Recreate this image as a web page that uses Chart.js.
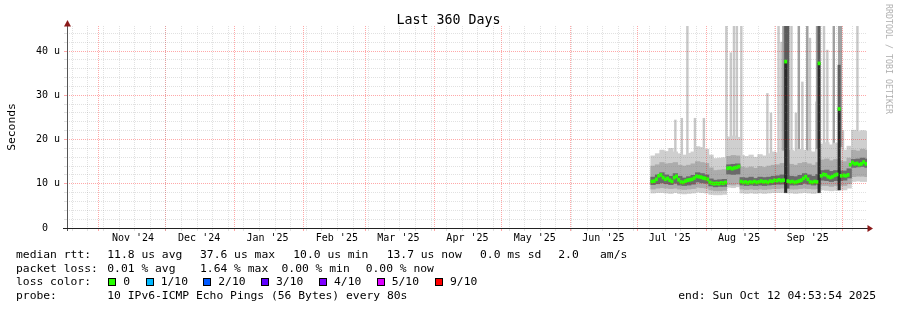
<!DOCTYPE html>
<html>
<head>
<meta charset="utf-8">
<title>Last 360 Days</title>
<script src="https://cdn.jsdelivr.net/npm/chart.js@4.4.1/dist/chart.umd.min.js"></script>
<style>
  html, body { margin: 0; padding: 0; background: #fff; }
  #graph { position: relative; width: 897px; height: 310px; overflow: hidden;
           font-family: "DejaVu Sans Mono", monospace; color: #000; }
  #graph canvas { position: absolute; left: 0; top: 0; }
  .txt { position: absolute; white-space: pre; font-size: 11.33px; line-height: 1; }
  .sq { position: absolute; top: 278px; width: 6px; height: 6px; border: 1px solid #000; }
</style>
</head>
<body>
<div id="graph">
  <canvas id="smokeChart" width="897" height="310"></canvas>

  <div class="txt" style="left:0; width:897px; text-align:center; top:12.7px; font-size:13.3px;">Last 360 Days</div>
  <div class="txt" style="left:-39px; top:120px; width:100px; height:14px; line-height:14px; text-align:center; transform:rotate(-90deg);">Seconds</div>
  <div class="txt" style="left:828.5px; top:54px; width:120px; height:10px; line-height:10px; text-align:center; font-size:8.3px; color:#b0b0b0; transform:rotate(90deg);">RRDTOOL / TOBI OETIKER</div>

  <div class="txt" style="left:16px; top:248.7px;">median rtt:</div>
  <div class="txt" style="left:107.3px; top:248.7px;">11.8 us avg</div>
  <div class="txt" style="left:200px; top:248.7px;">37.6 us max</div>
  <div class="txt" style="left:293.3px; top:248.7px;">10.0 us min</div>
  <div class="txt" style="left:386.7px; top:248.7px;">13.7 us now</div>
  <div class="txt" style="left:480px; top:248.7px;">0.0 ms sd</div>
  <div class="txt" style="left:558.3px; top:248.7px;">2.0</div>
  <div class="txt" style="left:600px; top:248.7px;">am/s</div>

  <div class="txt" style="left:16px; top:262.7px;">packet loss:</div>
  <div class="txt" style="left:107.3px; top:262.7px;">0.01 % avg</div>
  <div class="txt" style="left:200px; top:262.7px;">1.64 % max</div>
  <div class="txt" style="left:281.5px; top:262.7px;">0.00 % min</div>
  <div class="txt" style="left:365.7px; top:262.7px;">0.00 % now</div>

  <div class="txt" style="left:16px; top:276.4px;">loss color:</div>
  <div class="sq" style="left:108px; background:#26ff00;"></div>
  <div class="txt" style="left:123.3px; top:276.4px;">0</div>
  <div class="sq" style="left:145.5px; background:#00b8ff;"></div>
  <div class="txt" style="left:160.7px; top:276.4px;">1/10</div>
  <div class="sq" style="left:203px; background:#0059ff;"></div>
  <div class="txt" style="left:218.3px; top:276.4px;">2/10</div>
  <div class="sq" style="left:261px; background:#5e00ff;"></div>
  <div class="txt" style="left:276px; top:276.4px;">3/10</div>
  <div class="sq" style="left:319px; background:#7e00ff;"></div>
  <div class="txt" style="left:334px; top:276.4px;">4/10</div>
  <div class="sq" style="left:376.5px; background:#dd00ff;"></div>
  <div class="txt" style="left:391.7px; top:276.4px;">5/10</div>
  <div class="sq" style="left:435px; background:#ff0000;"></div>
  <div class="txt" style="left:450px; top:276.4px;">9/10</div>

  <div class="txt" style="left:16px; top:290.4px;">probe:</div>
  <div class="txt" style="left:107.3px; top:290.4px;">10 IPv6-ICMP Echo Pings (56 Bytes) every 80s</div>
  <div class="txt" style="left:678.3px; top:290.4px;">end: Sun Oct 12 04:53:54 2025</div>
</div>

<script>
// x axis runs in days from the left edge of the graph (360 day window)
const monthStarts = [14.04, 44.04, 75.04, 106.04, 134.04, 165.04, 195.04, 226.04, 256.04, 287.04, 318.04, 348.04];
const monthLabelDays = [29.6, 59.3, 90.0, 121.1, 148.7, 179.7, 209.9, 240.7, 270.5, 301.6, 332.4];
const monthLabels = ["Nov '24", "Dec '24", "Jan '25", "Feb '25", "Mar '25", "Apr '25",
                     "May '25", "Jun '25", "Jul '25", "Aug '25", "Sep '25"];
const firstWeekLine = 2.38;

// y axis in microseconds
const yTickValues = [0, 2, 4, 6, 8, 10, 12, 14, 16, 18, 20, 22, 24, 26, 28, 30, 32, 34, 36, 38, 40, 42, 44];
const yLabelValues = [0, 10, 20, 30, 40];
const yLabels = ['0  ', '10 u', '20 u', '30 u', '40 u'];
const yMax = 45.65;

// median rtt, one value per day starting at day 262
const medStart = 262;
const median = [
  10.5, 10.6, 11.0, 11.8, 12.0, 11.4, 11.0, 11.2, 10.8, 10.5,
  11.4, 11.7, 10.9, 10.4, 10.3, 10.6, 10.8, 10.9, 11.0, 11.3,
  11.7, 11.6, 11.5, 11.3, 11.2, 11.0, 10.3, 10.1, 10.0, 10.1,
  10.0, 10.2, 10.1, 10.3, 13.5, 13.6, 13.4, 13.6, 13.7, 13.9,
  10.5, 10.3, 10.4, 10.2, 10.4, 10.3, 10.5, 10.3, 10.4, 10.6,
  10.4, 10.5, 10.3, 10.6, 10.5, 10.8, 10.7, 10.9, 10.7, 10.8,
  37.6, 10.6, 10.4, 10.5, 10.3, 10.4, 10.6, 10.8, 11.2, 11.6,
  11.0, 10.4, 10.3, 10.5, 10.4, 37.2, 11.8, 12.1, 12.0, 11.6,
  11.4, 11.6, 11.9, 12.1, 26.9, 11.8, 11.9, 11.8, 12.0, 14.3,
  14.8, 14.5, 14.6, 14.3, 14.5, 14.9, 14.5
];

// smoke bands, one block per 2 days starting at day 262
const bandStart = 262;
const outerHi = [
  16.3, 16.8, 17.6, 17.3, 18.0, 17.2, 16.8, 16.5, 16.9, 17.2,
  18.4, 18.2, 17.8, 16.5, 15.7, 15.8, 15.9, 20.6, 20.8, 20.5,
  16.4, 16.2, 16.5, 16.0, 16.6, 16.3, 16.8, 17.2, 17.0, 17.4,
  17.5, 17.6, 17.3, 17.8, 17.6, 17.4, 17.2, 17.8, 19.0, 19.3,
  18.8, 19.2, 18.2, 17.6, 18.5, 22.1, 21.8, 22.0, 21.9
];
const outerLo = [
  7.9, 8.0, 8.0, 7.9, 7.8, 8.0, 7.8, 7.7, 7.8, 7.9,
  8.1, 8.0, 7.9, 7.6, 7.5, 7.5, 7.6, 9.2, 9.1, 9.3,
  7.9, 7.8, 7.9, 7.8, 7.9, 7.8, 7.9, 8.0, 8.0, 8.0,
  7.9, 7.9, 7.8, 7.9, 8.0, 7.9, 7.8, 7.9, 8.6, 8.5,
  8.4, 8.5, 8.6, 8.6, 9.0, 10.5, 10.6, 10.5, 10.5
];
const midHi = [
  14.0, 14.3, 14.8, 14.5, 14.6, 14.8, 14.2, 14.0, 14.2, 14.5,
  15.0, 14.8, 14.6, 13.6, 13.0, 13.1, 13.2, 16.2, 16.4, 16.3,
  13.8, 13.6, 13.8, 13.5, 13.9, 13.7, 14.0, 14.2, 14.3, 14.6,
  14.6, 14.4, 14.2, 14.6, 14.8, 14.5, 14.2, 14.8, 15.4, 15.6,
  15.2, 15.5, 15.2, 15.0, 15.8, 17.6, 17.4, 17.8, 17.6
];
const midLo = [
  8.8, 9.0, 9.1, 9.0, 8.9, 9.0, 8.8, 8.7, 8.8, 8.9,
  9.2, 9.1, 9.0, 8.6, 8.4, 8.4, 8.5, 9.8, 9.7, 9.9,
  8.8, 8.7, 8.8, 8.7, 8.8, 8.7, 8.8, 8.9, 8.9, 9.0,
  8.9, 8.8, 8.8, 8.9, 9.0, 8.9, 8.8, 8.9, 9.6, 9.6,
  9.4, 9.6, 9.6, 9.6, 10.0, 11.6, 11.7, 11.7, 11.6
];
const innerHi = [
  11.5, 12.0, 12.5, 12.0, 11.7, 12.3, 11.7, 11.3, 11.6, 11.9,
  12.5, 12.3, 12.0, 11.1, 10.8, 10.9, 11.0, 14.3, 14.4, 14.5,
  11.4, 11.3, 11.5, 11.2, 11.5, 11.4, 11.5, 11.7, 11.8, 12.0,
  11.9, 11.7, 11.6, 11.9, 12.3, 12.0, 11.7, 12.1, 13.0, 13.1,
  12.8, 13.0, 12.9, 12.9, 13.4, 15.5, 15.6, 15.8, 15.6
];
const innerLo = [
  9.8, 10.0, 10.2, 10.0, 9.8, 10.1, 9.7, 9.6, 9.7, 9.9,
  10.4, 10.2, 10.1, 9.5, 9.3, 9.4, 9.4, 12.2, 12.1, 12.2,
  9.7, 9.6, 9.7, 9.6, 9.7, 9.6, 9.7, 9.8, 9.9, 9.9,
  9.8, 9.7, 9.7, 9.8, 10.1, 9.9, 9.7, 9.9, 10.8, 10.7,
  10.5, 10.7, 10.7, 10.8, 11.3, 13.7, 13.8, 13.9, 13.7
];

// single high pings (thin spikes)
const spikeBase = 12;
const lightSpikeDays = [273.0, 275.9, 278.4, 281.8, 285.8, 295.9, 297.9, 299.3, 300.6, 302.6, 314.3, 315.9,
                        319.3, 320.6, 325.1, 327.1, 330.0, 333.4, 336.3, 339.7, 341.2, 348.2, 354.7];
const lightSpikeTops = [24.4, 24.8, 45.6, 24.8, 24.8, 45.6, 39.6, 45.6, 45.6, 45.6, 30.4, 26.0,
                        45.6, 42.0, 45.6, 26.0, 33.0, 42.9, 28.5, 45.6, 40.2, 22.0, 45.6];
const darkSpikeDays = [321.5, 328.4, 332.2, 336.6, 344.1, 347.3, 346.5];
const darkSpikeTops = [45.6, 45.6, 45.6, 45.6, 45.6, 45.6, 45.6];

// days where the median itself jumped up
const columnDays = [322, 337, 346];
const columnLo = [8.0, 8.0, 8.6];
const columnHi = [37.6, 37.2, 26.9];
const columnUpperDays = [322, 323, 337, 346];
const columnUpperLo = [37.6, 9.0, 37.2, 26.9];
const columnUpperHi = [45.6, 45.6, 45.6, 36.8];

const MINOR_GRID = 'rgba(128, 128, 128, 0.24)';
const MAJOR_GRID = 'rgba(255, 0, 0, 0.34)';
const TICK_FONT = { family: 'DejaVu Sans Mono', size: 10 };

document.addEventListener('DOMContentLoaded', function() {
  initSmokeChart();
});

/**
 * Floating bars [lo, hi] at the given x positions
 */
function floatBars(xs, lo, hi) {
  return xs.map((x, i) => ({ x: x, y: [lo[i], hi[i]] }));
}

/**
 * Tick list for the time axis: weekly lines, monthly lines and month labels
 */
function buildTimeTicks() {
  const ticks = [];
  for (let d = firstWeekLine; d < 359; d += 7) {
    ticks.push({ value: d, kind: 'week', text: '' });
  }
  monthStarts.forEach(d => ticks.push({ value: d, kind: 'month', text: '' }));
  monthLabelDays.forEach((d, i) => ticks.push({ value: d, kind: 'label', text: monthLabels[i] }));
  return ticks.sort((a, b) => a.value - b.value);
}

function timeGridColor(ctx) {
  if (!ctx.tick) return 'rgba(0,0,0,0)';
  if (ctx.tick.kind === 'month') return MAJOR_GRID;
  if (ctx.tick.kind === 'week') return MINOR_GRID;
  return 'rgba(0,0,0,0)';
}

function valueGridColor(ctx) {
  if (!ctx.tick) return 'rgba(0,0,0,0)';
  return ctx.tick.value % 10 === 0 ? MAJOR_GRID : MINOR_GRID;
}

/**
 * Axis lines and the little arrow heads
 */
const axisArrows = {
  id: 'axisArrows',
  afterDraw(chart) {
    const ctx = chart.ctx;
    const a = chart.chartArea;
    ctx.save();
    ctx.lineWidth = 1;
    ctx.strokeStyle = '#555';
    ctx.beginPath();
    ctx.moveTo(a.left + 0.5, a.bottom + 3);
    ctx.lineTo(a.left + 0.5, a.top - 2);
    ctx.stroke();
    ctx.strokeStyle = '#222';
    ctx.beginPath();
    ctx.moveTo(a.left - 4, a.bottom + 0.5);
    ctx.lineTo(a.right + 2, a.bottom + 0.5);
    ctx.stroke();

    ctx.fillStyle = '#8b1a1a';
    ctx.beginPath();
    ctx.moveTo(a.left + 0.5, a.top - 6);
    ctx.lineTo(a.left - 3, a.top + 0.5);
    ctx.lineTo(a.left + 4, a.top + 0.5);
    ctx.closePath();
    ctx.fill();
    ctx.beginPath();
    ctx.moveTo(a.right + 6, a.bottom + 0.5);
    ctx.lineTo(a.right + 0.5, a.bottom - 3);
    ctx.lineTo(a.right + 0.5, a.bottom + 4);
    ctx.closePath();
    ctx.fill();
    ctx.restore();
  }
};

/**
 * Create the smoke chart
 */
function initSmokeChart() {
  const ctx = document.getElementById('smokeChart');
  if (!ctx) return;

  const medDays = median.map((m, i) => medStart + i + 0.5);
  const bandDays = outerHi.map((v, i) => bandStart + 2 * i + 1);
  const medLo = median.map(m => m - 0.34);
  const medHi = median.map(m => m + 0.34);
  const colX = columnDays.map(d => d + 0.5);
  const colUpX = columnUpperDays.map(d => d + 0.5);
  const timeTicks = buildTimeTicks();

  const chart = new Chart(ctx, {
    type: 'bar',
    data: {
      datasets: [
        { label: 'median', data: floatBars(medDays, medLo, medHi), backgroundColor: '#26ff00', barThickness: 2.3, order: 0 },
        { label: 'jump', data: floatBars(colX, columnLo, columnHi), backgroundColor: '#2a2a2a', barThickness: 2.4, order: 1 },
        { label: 'jump upper', data: floatBars(colUpX, columnUpperLo, columnUpperHi), backgroundColor: '#5c5c5c', barThickness: 2.4, order: 2 },
        { label: 'inner', data: floatBars(bandDays, innerLo, innerHi), backgroundColor: '#6a6a6a', barThickness: 4.6, order: 3 },
        { label: 'middle', data: floatBars(bandDays, midLo, midHi), backgroundColor: '#acacac', barThickness: 4.6, order: 4 },
        { label: 'outer', data: floatBars(bandDays, outerLo, outerHi), backgroundColor: '#cfcfcf', barThickness: 4.6, order: 5 },
        { label: 'dark spikes', data: floatBars(darkSpikeDays, darkSpikeDays.map(() => spikeBase), darkSpikeTops), backgroundColor: '#a0a0a0', barThickness: 1.8, order: 6 },
        { label: 'light spikes', data: floatBars(lightSpikeDays, lightSpikeDays.map(() => spikeBase), lightSpikeTops), backgroundColor: '#c8c8c8', barThickness: 1.8, order: 7 }
      ]
    },
    options: {
      responsive: false,
      animation: false,
      layout: { padding: { left: 0, right: 30, top: 26, bottom: 0 } },
      datasets: {
        bar: { grouped: false, borderWidth: 0, clip: 0 }
      },
      plugins: {
        legend: { display: false },
        tooltip: { enabled: false },
        title: { display: false }
      },
      scales: {
        x: {
          type: 'linear',
          min: 0,
          max: 359,
          offset: false,
          afterBuildTicks: function(scale) {
            scale.ticks = timeTicks.map(t => Object.assign({}, t));
          },
          afterFit: function(scale) { scale.height = 82; },
          grid: {
            offset: false,
            z: 1,
            color: timeGridColor,
            tickColor: timeGridColor,
            lineWidth: c => (c.tick && c.tick.kind === 'label') ? 0 : 1,
            tickLength: 3
          },
          border: { display: false, dash: [1, 1] },
          ticks: {
            autoSkip: false,
            maxRotation: 0,
            minRotation: 0,
            padding: 1,
            color: '#000',
            font: TICK_FONT,
            callback: function(value, index, ticks) {
              return ticks[index].text || '';
            }
          }
        },
        y: {
          type: 'linear',
          min: 0,
          max: yMax,
          afterBuildTicks: function(scale) {
            scale.ticks = yTickValues.map(v => ({ value: v }));
          },
          afterFit: function(scale) { scale.width = 67; },
          grid: {
            z: 1,
            color: valueGridColor,
            tickColor: valueGridColor,
            tickLength: 3
          },
          border: { display: false, dash: [1, 1] },
          ticks: {
            autoSkip: false,
            padding: 4,
            color: '#000',
            font: TICK_FONT,
            callback: function(value) {
              const i = yLabelValues.indexOf(value);
              return i >= 0 ? yLabels[i] : '';
            }
          }
        }
      }
    },
    plugins: [axisArrows]
  });
}
</script>
</body>
</html>
